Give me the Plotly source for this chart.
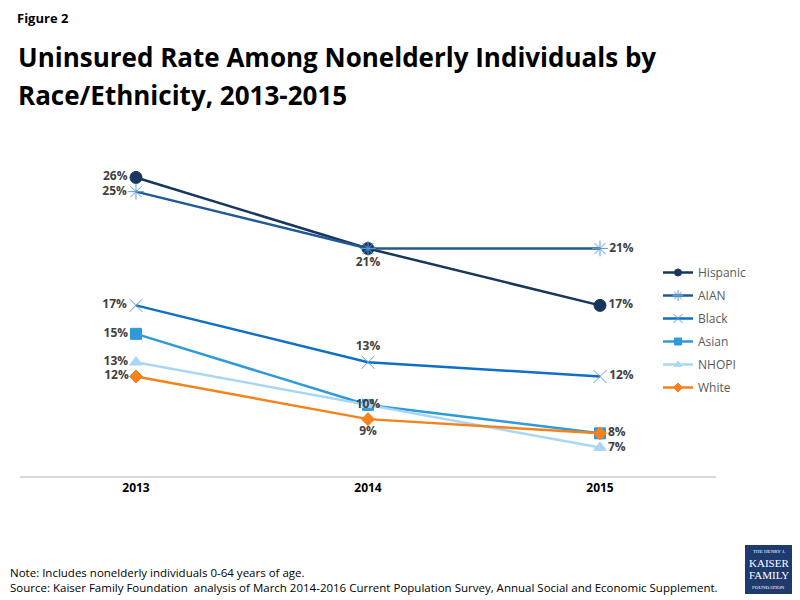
import plotly.graph_objects as go

years = ["2013", "2014", "2015"]
series_names = ["Hispanic", "AIAN", "Black", "Asian", "NHOPI", "White"]
hispanic = [26, 21, 17]
aian = [25, 21, 21]
black = [17, 13, 12]
asian = [15, 10, 8]
nhopi = [13, 10, 7]
white = [12, 9, 8]

values = [hispanic, aian, black, asian, nhopi, white]
line_colors = ["#17375E", "#1F5A96", "#0F6FC6", "#2E9AD9", "#A8D6F4", "#F7821B"]
marker_colors = ["#17375E", "#5B9BD5", "#5B9BD5", "#2E9AD9", "#A8D6F4", "#F7821B"]
symbols = ["circle", "asterisk-open", "x-thin-open", "square", "triangle-up", "diamond"]
sizes = [12, 13, 13, 11, 11, 10]
legend_sizes = [7, 9, 9, 7, 7, 7]
show_label = [
    [True, True, True],
    [True, False, True],
    [True, True, True],
    [True, False, True],
    [True, True, True],
    [True, True, False],
]
positions = [
    ["middle left", "bottom center", "middle right"],
    ["middle left", "middle center", "middle right"],
    ["middle left", "top center", "middle right"],
    ["middle left", "middle center", "middle right"],
    ["middle left", "middle center", "middle right"],
    ["middle left", "bottom center", "middle right"],
]

fig = go.Figure()
for i, name in enumerate(series_names):
    txt = [f"{v}%" if s else "" for v, s in zip(values[i], show_label[i])]
    fig.add_trace(go.Scatter(
        x=years, y=values[i], name=name, mode="lines+markers+text",
        line=dict(color=line_colors[i], width=2.5),
        marker=dict(symbol=symbols[i], size=sizes[i], color=marker_colors[i],
                    line=dict(color=marker_colors[i], width=1)),
        text=txt, textposition=positions[i],
        textfont=dict(family="Open Sans", size=12, color="#404040", weight="bold"),
        showlegend=False, cliponaxis=False,
    ))
# legend entries with small markers
for i, name in enumerate(series_names):
    fig.add_trace(go.Scatter(
        x=[years[0]], y=[None], name=name, mode="lines+markers",
        line=dict(color=line_colors[i], width=2.5),
        marker=dict(symbol=symbols[i], size=legend_sizes[i], color=marker_colors[i],
                    line=dict(color=marker_colors[i], width=1)),
        legendgroup=name, showlegend=True, hoverinfo="skip",
    ))

# page pixel -> paper coordinates (plot area spans page x 20..716, y 149..476)
def py(pix):
    return (476 - pix) / 327.0
def px(pix):
    return (pix - 20) / 696.0

fig.update_layout(
    width=792, height=592,
    margin=dict(l=12, r=84, t=141, b=124, autoexpand=False),
    paper_bgcolor="white", plot_bgcolor="white",
    showlegend=True,
    legend=dict(x=px(658), y=py(258), xanchor="left", yanchor="top",
                font=dict(family="Open Sans", size=12, color="#595959"),
                tracegroupgap=4, itemwidth=30, bgcolor="rgba(0,0,0,0)"),
    xaxis=dict(type="category", range=[-0.5, 2.5], showgrid=False,
               showline=True, linecolor="#D9D9D9", linewidth=1.5,
               ticks="", tickfont=dict(family="Open Sans", size=12, color="#000000",
                                       weight="bold")),
    yaxis=dict(range=[5, 28], visible=False),
    font=dict(family="Open Sans"),
)

fig.add_annotation(text="<b>Figure 2</b>", x=px(15), y=py(18), xref="paper", yref="paper",
                   showarrow=False, xanchor="left", yanchor="middle",
                   font=dict(family="Open Sans", size=13, color="#000000"))
for t, yy in [("<b>Uninsured Rate Among Nonelderly Individuals by</b>", 57),
              ("<b>Race/Ethnicity, 2013-2015</b>", 95)]:
    fig.add_annotation(text=t, x=px(16), y=py(yy), xref="paper", yref="paper",
                       showarrow=False, xanchor="left", yanchor="middle", align="left",
                       font=dict(family="Open Sans", size=26, color="#000000"))
fig.add_annotation(text="Note: Includes nonelderly individuals 0-64 years of age.<br>Source: Kaiser Family Foundation  analysis of March 2014-2016 Current Population Survey, Annual Social and Economic Supplement.",
                   x=px(8), y=py(580), xref="paper", yref="paper",
                   showarrow=False, xanchor="left", yanchor="middle", align="left",
                   font=dict(family="Open Sans", size=11.5, color="#000000"))

fig.add_shape(type="rect", xref="paper", yref="paper",
              x0=px(745), x1=px(792), y0=py(545), y1=py(594),
              fillcolor="#1F3A6E", line=dict(width=0))
logo_lines = [("THE HENRY J.", 5, 551), ("KAISER", 11, 563), ("FAMILY", 11, 575), ("FOUNDATION", 5, 587)]
for t, s, yy in logo_lines:
    fig.add_annotation(text=t, x=px(768.5), y=py(yy), xref="paper", yref="paper",
                       showarrow=False, xanchor="center", yanchor="middle",
                       font=dict(family="Liberation Serif", size=s, color="white"))

fig.write_html("out.html")
